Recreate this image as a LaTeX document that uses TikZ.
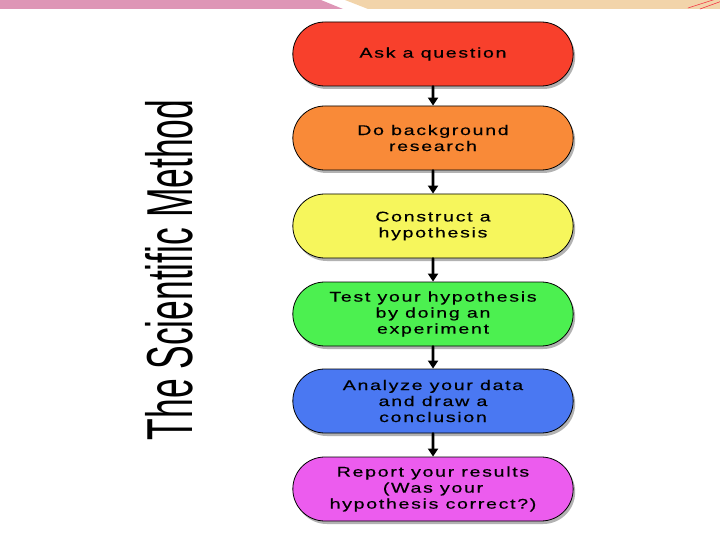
\documentclass[tikz,border=0pt]{standalone}
\usepackage{fontspec}
\setmainfont{Liberation Sans}
\newfontfamily\boxfont{Liberation Sans}[FakeStretch=1.4,LetterSpace=12,FakeBold=0.4]
\usetikzlibrary{arrows.meta,shapes.misc,shadows}
\definecolor{cRed}{RGB}{248,64,44}
\definecolor{cOrange}{RGB}{249,138,56}
\definecolor{cYellow}{RGB}{246,246,92}
\definecolor{cGreen}{RGB}{76,240,80}
\definecolor{cBlue}{RGB}{74,120,242}
\definecolor{cPink}{RGB}{236,92,238}
\definecolor{bandpink}{RGB}{222,150,182}
\definecolor{bandsand}{RGB}{242,212,170}
\begin{document}
\begin{tikzpicture}[x=1pt, y=-1pt, line join=round, line cap=round,
	stepbox/.style={rounded rectangle, draw=black, line width=0.8pt, minimum width=287pt, minimum height=64pt, align=center, text=black,
		font=\boxfont\fontsize{14}{16}\selectfont,
		drop shadow={shadow xshift=2pt, shadow yshift=-3pt, opacity=0.3, fill=black}},
	flow/.style={-{Triangle[width=10pt,length=8pt]}, line width=2.6pt}]
	\useasboundingbox (0,0) rectangle (720,540);
	% band at the top
	\fill[bandpink] (0,0)--(321,0)--(343,9)--(0,9)--cycle;
	\fill[bandsand] (345,0)--(720,0)--(720,9)--(368,9)--cycle;
	\draw[red!60!bandpink, line width=0.6pt] (688,8)--(716,-1) (700,9)--(722,1);
	% title
	\node[rotate=90] (title) at (169,270) {\fontsize{65}{65}\selectfont\scalebox{0.545}[1]{The Scientific Method}};
	% steps
	\foreach \n/\y/\c/\t in {ask/54/cRed/{Ask a question},
		research/138/cOrange/{Do background\\research},
		hyp/226/cYellow/{Construct a\\hypothesis},
		test/314/cGreen/{Test your hypothesis\\by doing an\\experiment},
		analyze/401/cBlue/{Analyze your data\\and draw a\\conclusion},
		report/489/cPink/{Report your results\\(Was your\\hypothesis correct?)}}
	\node[stepbox, fill=\c] (\n) at (433,\y) {\t};
	\foreach \a/\b in {ask/research,research/hyp,hyp/test,test/analyze,analyze/report}
	\draw[flow] (\a) -- (\b);
\end{tikzpicture}
\end{document}
